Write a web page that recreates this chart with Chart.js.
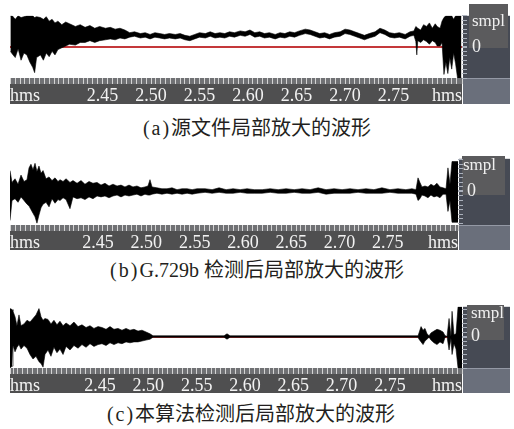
<!DOCTYPE html>
<html>
<head>
<meta charset="utf-8">
<script src="https://cdn.jsdelivr.net/npm/chart.js@4"></script>
<style>
  body { margin: 0; background: #fff; }
  #page { position: relative; width: 514px; height: 429px; overflow: hidden; background: #fff; }
  canvas { position: absolute; left: 0; }
  .cap { position: absolute; font-family: "Liberation Serif", "Noto Sans CJK SC", serif; font-size: 20px; line-height: 20px;
         color: #231f20; white-space: nowrap; transform: translateX(-50%); }
  .cap .pr { padding: 0 2px; }
  .smpl { position: absolute; font-family: "Liberation Serif", serif; font-size: 17px; line-height: 17px; color: #f0f0f0; }
</style>
</head>
<body>
<div id="page">
  <canvas id="waveA" width="514" height="104" style="top:0px"></canvas>
  <canvas id="waveB" width="514" height="106" style="top:144px"></canvas>
  <canvas id="waveC" width="514" height="101" style="top:292px"></canvas>
  <div class="smpl" style="left:472px;top:12px">smpl</div>
  <div class="smpl" style="left:463px;top:156px">smpl</div>
  <div class="smpl" style="left:471px;top:304px">smpl</div>
  <div class="cap" style="left:256px;top:118px"><span class="pr">(</span>a<span class="pr">)</span>源文件局部放大的波形</div>
  <div class="cap" style="left:256px;top:260px"><span class="pr">(</span>b<span class="pr">)</span>G.729b 检测后局部放大的波形</div>
  <div class="cap" style="left:250px;top:404px"><span class="pr">(</span>c<span class="pr">)</span>本算法检测后局部放大的波形</div>
</div>
<script>
// time axis labels (s)
var timeLabels = ['2.45', '2.50', '2.55', '2.60', '2.65', '2.70', '2.75'];

// (a) source file: envelope of the waveform, upper / lower edge
var timeA = [2.355, 2.357, 2.360, 2.363, 2.366, 2.369, 2.372, 2.375, 2.378, 2.380, 2.382, 2.386, 2.389, 2.392, 2.395, 2.398,
  2.401, 2.404, 2.408, 2.412, 2.416, 2.422, 2.427, 2.432, 2.437, 2.442, 2.447, 2.453, 2.458, 2.463, 2.468, 2.473,
  2.478, 2.483, 2.489, 2.494, 2.499, 2.504, 2.509, 2.514, 2.519, 2.525, 2.530, 2.535, 2.540, 2.545, 2.550, 2.556,
  2.561, 2.566, 2.571, 2.576, 2.581, 2.586, 2.592, 2.597, 2.602, 2.607, 2.612, 2.617, 2.622, 2.628, 2.633, 2.638,
  2.643, 2.648, 2.653, 2.659, 2.664, 2.669, 2.674, 2.679, 2.684, 2.689, 2.695, 2.700, 2.705, 2.710, 2.715, 2.720,
  2.725, 2.731, 2.736, 2.741, 2.746, 2.751, 2.756, 2.762, 2.767, 2.771,
  2.773, 2.774, 2.775, 2.778, 2.781, 2.784, 2.787, 2.790, 2.793, 2.795, 2.798, 2.800, 2.802, 2.804, 2.806, 2.808,
  2.810, 2.812, 2.814, 2.816, 2.820];
var upperA = [35, 35, 31, 35, 33, 34, 35, 35, 35, 33, 34, 33, 31, 34, 29, 31, 27, 29, 25, 28, 26, 23, 25, 22, 24, 21, 23, 21, 22, 20, 21, 19,
  16, 17, 15, 16, 14, 16, 15, 14, 15, 14, 15, 13, 12, 14, 16, 15, 17, 15, 16, 15, 17, 16, 18, 17, 19, 16, 17, 15, 16, 14,
  16, 15, 17, 16, 18, 20, 19, 17, 15, 16, 14, 16, 17, 20, 19, 17, 15, 13, 15, 17, 21, 19, 16, 15, 16, 14, 17, 18,
  23, 22, 21, 19, 25, 23, 27, 21, 26, 23, 21, 29, 33, 35, 35, 35, 35, 31, 35, 35, 35];
var lowerA = [-5, -8, -12, -2, -15, -7, -9, -17, -23, -29, -12, -9, -15, -7, -11, -5, -9, -3, -1, 1, 3, 2, 5, 5, 7, 5, 7, 8, 9, 8, 10, 9,
  11, 12, 10, 11, 9, 11, 10, 9, 10, 9, 10, 8, 7, 9, 11, 10, 12, 10, 11, 10, 12, 11, 13, 12, 14, 11, 12, 10, 11, 9,
  11, 10, 12, 11, 13, 15, 14, 12, 10, 11, 9, 11, 12, 15, 14, 12, 10, 8, 10, 12, 16, 14, 11, 10, 11, 9, 12, 13,
  6, -9, 7, 5, 8, 6, 3, 7, 5, 1, 1, 5, -31, -17, -30, -12, -25, -7, -19, -35, -35];

// (b) after G.729b detection
var timeB = [2.3589, 2.3610, 2.3641, 2.3672, 2.3703, 2.3734, 2.3765, 2.3786, 2.3806, 2.3827,
  2.3848, 2.3868, 2.3889, 2.3910, 2.3931, 2.3962, 2.3993, 2.4024, 2.4055, 2.4086,
  2.4107, 2.4138, 2.4169, 2.4210, 2.4241, 2.4283, 2.4324, 2.4365, 2.4407, 2.4448,
  2.4490, 2.4531, 2.4572, 2.4614, 2.4655, 2.4697, 2.4738, 2.4779, 2.4821, 2.4862,
  2.4903, 2.4945, 2.4986, 2.5017, 2.5038, 2.5059, 2.5110, 2.5162, 2.5214, 2.5266,
  2.5318, 2.5370, 2.5422, 2.5474, 2.5525, 2.5608, 2.5681, 2.5753, 2.5826, 2.5898,
  2.5971, 2.6043, 2.6116, 2.6199, 2.6282, 2.6364, 2.6447, 2.6530, 2.6612, 2.6695,
  2.6778, 2.6860, 2.6943, 2.7026, 2.7108, 2.7191, 2.7274, 2.7356, 2.7439, 2.7522,
  2.7604, 2.7687, 2.7749, 2.7791, 2.7812, 2.7832, 2.7853, 2.7884, 2.7915, 2.7946,
  2.7977, 2.8008, 2.8039, 2.8071, 2.8102, 2.8122, 2.8143, 2.8164, 2.8195, 2.8226];
var upperB = [23, 10, 14, 8, 18, 11, 13, 26, 30, 24, 31, 22, 28, 20, 23, 14, 16, 12, 15, 11,
  13, 11, 14, 10, 12, 9, 12, 8, 11, 9, 10, 7, 9, 6, 8, 6, 7, 5, 7, 5,
  6, 4, 5, 6, 13, 5, 4, 3, 3, 4, 2, 3, 3, 2, 3, 3, 2, 4, 2, 3,
  2, 3, 2, 2, 3, 2, 3, 2, 3, 2, 4, 2, 3, 2, 3, 2, 3, 2, 4, 2,
  3, 2, 3, 2, 15, 10, 5, 6, 5, 8, 6, 9, 5, 4, 3, 26, 8, 33, 33, 33];
var lowerB = [-32, -10, -8, -12, -6, -10, -14, -16, -20, -24, -28, -35, -26, -18, -14, -12, -17, -8, -13, -9,
  -10, -7, -9, -19, -6, -8, -7, -9, -6, -8, -5, -6, -5, -7, -5, -4, -6, -4, -5, -4,
  -3, -5, -3, -4, -4, -3, -2, -3, -2, -3, -2, -3, -2, -3, -2, -1, -2, -1, -2, -2,
  -1, -2, -2, -2, -1, -2, -2, -1, -2, -2, -1, -3, -2, -2, -2, -1, -2, -2, -2, -1,
  -2, -2, -2, -3, -10, -8, -4, -5, -7, -4, -6, -5, -7, -3, -3, -22, -10, -34, -34, -34];

// (c) after the proposed algorithm
var timeC = [2.3568, 2.3589, 2.3599, 2.3620, 2.3640, 2.3661, 2.3682, 2.3713, 2.3744, 2.3775,
  2.3806, 2.3837, 2.3868, 2.3889, 2.3910, 2.3930, 2.3961, 2.3992, 2.4023, 2.4054,
  2.4085, 2.4117, 2.4148, 2.4189, 2.4230, 2.4272, 2.4313, 2.4355, 2.4396, 2.4437,
  2.4479, 2.4520, 2.4562, 2.4603, 2.4644, 2.4686, 2.4727, 2.4769, 2.4810, 2.4851,
  2.4893, 2.4934, 2.4976, 2.5017, 2.5048, 2.5783, 2.5814, 2.5845, 2.7791, 2.7801,
  2.7822, 2.7843, 2.7863, 2.7884, 2.7905, 2.7925, 2.7956, 2.7987, 2.8018, 2.8050,
  2.8070, 2.8091, 2.8112, 2.8132, 2.8143, 2.8163, 2.8184, 2.8205, 2.8246];
var upperC = [31, 30, 28, 22, 12, 24, 12, 14, 18, 16, 20, 24, 31, 22, 18, 20, 19, 14, 18, 13,
  17, 12, 15, 12, 16, 11, 13, 10, 12, 9, 11, 10, 8, 11, 8, 9, 7, 9, 7, 8,
  6, 7, 5, 3, 0.8, 0.8, 3, 0.8, 0.8, 4, 11, 7, 9, 3, 0.8, 4, 6, 8, 7, 5,
  1, 0, 20, 0, 28, 2, 3, 33, 33];
var lowerC = [-35, -33, -10, -17, -12, -9, -14, -10, -13, -20, -25, -22, -28, -30, -34, -20, -15, -22, -12, -18,
  -14, -20, -11, -15, -10, -13, -9, -12, -8, -11, -9, -8, -10, -7, -9, -7, -8, -6, -7, -6,
  -6, -5, -4, -3, -0.8, -0.8, -3, -0.8, -0.8, -3, -6, -9, -5, -3, -0.8, -4, -7, -9, -6, -8,
  -1, 0, -15, -2, -20, -8, -14, -35, -35];

var serif = "'Liberation Serif', 'DejaVu Serif', serif";

var panelBg = {
    id: 'panelBg',
    beforeDraw: function (chart, args, opts) {
        var ctx = chart.ctx, a = chart.chartArea, h = chart.height;
        ctx.save();
        // time bar under the wave
        ctx.fillStyle = '#4f4f50';
        ctx.fillRect(a.left, a.bottom, a.right - a.left, h - a.bottom);
        ctx.fillStyle = '#707174';
        ctx.fillRect(a.left, a.bottom, a.right - a.left, 6);
        // sample panel on the right
        ctx.fillStyle = '#464a54';
        ctx.fillRect(a.right + 1, a.top, opts.edge - a.right - 1, a.bottom - a.top);
        ctx.fillStyle = '#5b5b5d';
        ctx.fillRect(opts.box[0], opts.box[1], opts.box[2] - opts.box[0], opts.box[3] - opts.box[1]);
        ctx.fillStyle = '#6a6f7b';
        ctx.fillRect(a.right + 1, a.bottom, opts.edge - a.right - 1, h - a.bottom);
        ctx.fillStyle = '#9499a5';
        ctx.fillRect(a.right + 1, a.bottom, opts.edge - a.right - 1, 1);
        ctx.restore();
    }
};

function wavePoints(t, v) {
    return t.map(function (x, i) { return { x: x, y: v[i] }; });
}

function drawPanel(id, t, hi, lo, o) {
    new Chart(document.getElementById(id), {
        type: 'line',
        data: {
            datasets: [{
                data: wavePoints(t, hi),
                borderColor: '#000',
                backgroundColor: '#000',
                borderWidth: 0.6,
                pointRadius: 0,
                fill: '+1'
            }, {
                data: wavePoints(t, lo),
                borderColor: '#000',
                borderWidth: 0.6,
                pointRadius: 0,
                fill: false
            }]
        },
        plugins: [panelBg],
        options: {
            responsive: false,
            animation: false,
            layout: { padding: { top: o.padTop, left: 10, right: 0, bottom: 0 } },
            plugins: {
                legend: { display: false },
                tooltip: { enabled: false },
                panelBg: { edge: 510, box: o.box }
            },
            scales: {
                x: {
                    type: 'linear',
                    min: o.xMin,
                    max: o.xMax,
                    afterBuildTicks: function (scale) {
                        var ticks = [{ value: o.xMin }];
                        for (var k = 472; k <= 564; k++) {
                            var v = k / 200;
                            if (v > o.xMin + 0.002 && v < o.xMax - 0.002) ticks.push({ value: v });
                        }
                        ticks.push({ value: o.xMax });
                        scale.ticks = ticks;
                    },
                    afterFit: function (scale) { scale.height = o.axisH; },
                    border: { display: false },
                    grid: {
                        drawOnChartArea: false,
                        tickLength: 6,
                        tickColor: '#d4d4d4',
                        tickWidth: 1
                    },
                    ticks: {
                        autoSkip: false,
                        maxRotation: 0,
                        minRotation: 0,
                        align: 'inner',
                        padding: 1,
                        color: '#f2f2f2',
                        font: { family: serif, size: 18 },
                        callback: function (value, index, ticks) {
                            if (index === 0 || index === ticks.length - 1) return 'hms';
                            var s = value.toFixed(2);
                            return timeLabels.indexOf(s) >= 0 && Math.abs(value * 20 - Math.round(value * 20)) < 1e-6 ? s : '';
                        }
                    }
                },
                y: {
                    position: 'right',
                    min: o.yMin,
                    max: o.yMax,
                    afterBuildTicks: function (scale) {
                        var ticks = [];
                        for (var v = -5 * Math.floor(-o.yMin / 5); v <= o.yMax; v += 5) ticks.push({ value: v });
                        scale.ticks = ticks;
                    },
                    afterFit: function (scale) { scale.width = o.yWidth; },
                    border: { display: false },
                    grid: {
                        color: function (c) { return c.tick && c.tick.value === 0 ? '#c4383a' : 'rgba(0,0,0,0)'; },
                        lineWidth: function (c) { return c.tick && c.tick.value === 0 ? 2 : 1; },
                        tickLength: 5,
                        tickColor: '#aab0bb'
                    },
                    ticks: {
                        autoSkip: false,
                        padding: o.yPad,
                        color: '#f0f0f0',
                        font: { family: serif, size: 18 },
                        callback: function (value) { return value === 0 ? '0' : ''; }
                    }
                }
            }
        }
    });
}

drawPanel('waveA', timeA, upperA, lowerA, {
    xMin: 2.3546, xMax: 2.8206, yMin: -35, yMax: 35,
    padTop: 8, axisH: 26, yWidth: 52, yPad: 5, box: [469, 4, 508, 48]
});
drawPanel('waveB', timeB, upperB, lowerB, {
    xMin: 2.3589, xMax: 2.8226, yMin: -37, yMax: 36,
    padTop: 8, axisH: 25, yWidth: 56, yPad: 4, box: [462, 12, 505, 51]
});
drawPanel('waveC', timeC, upperC, lowerC, {
    xMin: 2.3568, xMax: 2.8246, yMin: -35, yMax: 33,
    padTop: 8, axisH: 25, yWidth: 52, yPad: 4, box: [467, 13, 504, 48]
});
</script>
</body>
</html>
